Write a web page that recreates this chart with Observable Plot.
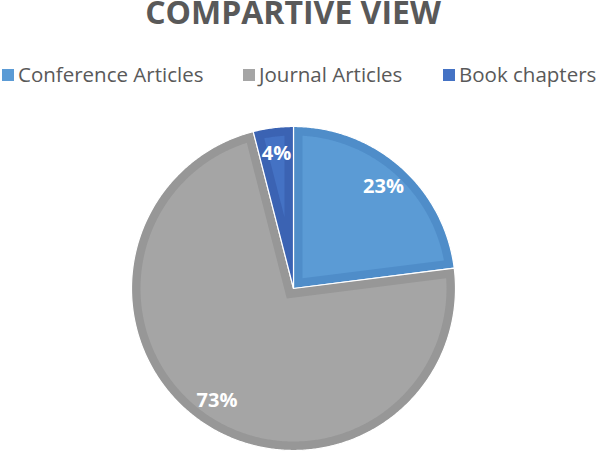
<!DOCTYPE html>
<html>
<head>
<meta charset="utf-8">
<script src="https://cdn.jsdelivr.net/npm/d3@7"></script>
<script src="https://cdn.jsdelivr.net/npm/@observablehq/plot@0.6"></script>
<style>
  html, body { margin: 0; padding: 0; background: #ffffff; }
  #wrap { position: relative; width: 596px; height: 453px; overflow: hidden; font-family: "Open Sans", sans-serif; }
  #title { position: absolute; left: 0; width: 586px; text-align: center; top: -6px; font-size: 32px; line-height: 1.1; font-weight: 700; color: #595959; white-space: nowrap; }
  .lg { position: absolute; top: 62.5px; font-size: 20.5px; line-height: 1.1; color: #595959; white-space: nowrap; }
  .sw { position: absolute; top: 69px; width: 12px; height: 12px; }
  #chart { position: absolute; left: 0; top: 100px; }
</style>
</head>
<body>
<div id="wrap">
  <div id="title">COMPARTIVE VIEW</div>
  <div id="legend"></div>
  <div id="chart"></div>
</div>
<script>
// ---- data ----
const categories = ["Conference Articles", "Journal Articles", "Book chapters"];
const values = [23, 73, 4];
const labels = ["23%", "73%", "4%"];
const fillColors = ["#5b9bd5", "#a5a5a5", "#4472c4"];
const borderColors = ["#4f8dc9", "#979797", "#3b63b3"];

// ---- legend layout ----
const swatchX = [2, 243, 443];
const textX = [18, 259, 459];
const legend = document.getElementById("legend");
categories.forEach((c, i) => {
  const s = document.createElement("div");
  s.className = "sw"; s.style.left = swatchX[i] + "px"; s.style.background = fillColors[i];
  legend.appendChild(s);
  const t = document.createElement("div");
  t.className = "lg"; t.style.left = textX[i] + "px"; t.textContent = c;
  legend.appendChild(t);
});

// ---- pie geometry (unit circle, clockwise from top) ----
const R_PX = 162, CX = 293, CY = 188, W = 596, H = 353;
const inset = 9 / R_PX;
const total = d3.sum(values);
let acc = 0;
const slices = values.map((v, i) => {
  const a0 = acc / total * 2 * Math.PI;
  acc += v;
  const a1 = acc / total * 2 * Math.PI;
  return {i, a0, a1, mid: (a0 + a1) / 2};
});

function wedge(a0, a1, rad, ins) {
  const pts = [];
  const theta = a1 - a0, mid = (a0 + a1) / 2;
  const ad = ins > 0 ? ins / Math.sin(theta / 2) : 0;
  const apex = {x: ad * Math.sin(mid), y: ad * Math.cos(mid)};
  pts.push(apex);
  const R = rad - ins;
  const da = ins > 0 ? Math.asin(ins / R) : 0;
  const s = a0 + da, e = a1 - da;
  const n = Math.max(2, Math.ceil((e - s) / (Math.PI / 360)));
  for (let k = 0; k <= n; k++) {
    const a = s + (e - s) * k / n;
    pts.push({x: R * Math.sin(a), y: R * Math.cos(a)});
  }
  pts.push(apex);
  return pts;
}

const marks = [];
slices.forEach(s => {
  marks.push(Plot.line(wedge(s.a0, s.a1, 1, 0), {x: "x", y: "y", fill: borderColors[s.i], stroke: "#ffffff", strokeWidth: 1.2, curve: "linear"}));
});
slices.forEach(s => {
  marks.push(Plot.line(wedge(s.a0, s.a1, 1, inset), {x: "x", y: "y", fill: fillColors[s.i], stroke: "none", curve: "linear"}));
});
const labelData = slices.map(s => ({x: 0.84 * Math.sin(s.mid), y: 0.84 * Math.cos(s.mid), t: labels[s.i]}));
marks.push(Plot.text(labelData, {x: "x", y: "y", text: "t", fill: "#ffffff", fontSize: 20, fontWeight: 700, fontFamily: "Open Sans"}));

const chart = Plot.plot({
  width: W, height: H, margin: 0,
  x: {domain: [-1, 1], range: [CX - R_PX, CX + R_PX], axis: null},
  y: {domain: [-1, 1], range: [CY + R_PX, CY - R_PX], axis: null},
  style: {background: "transparent", overflow: "visible"},
  marks
});
document.getElementById("chart").appendChild(chart);
</script>
</body>
</html>
